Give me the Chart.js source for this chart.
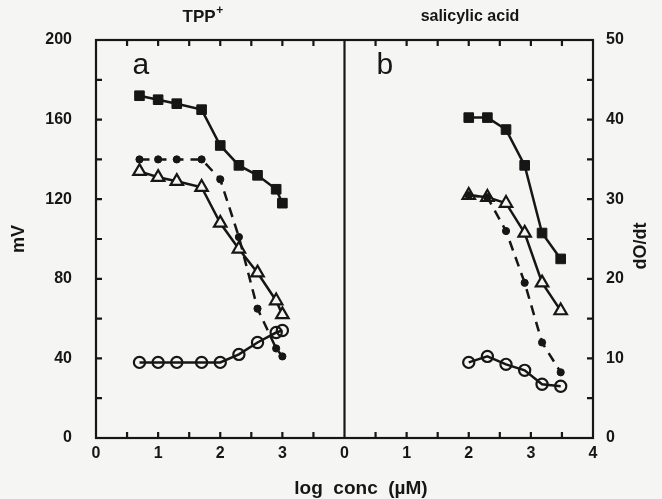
<!DOCTYPE html>
<html>
<head>
<meta charset="utf-8">
<script src="https://cdn.jsdelivr.net/npm/chart.js@4/dist/chart.umd.min.js"></script>
<style>
  html, body { margin: 0; padding: 0; background: #f5f5f3; }
  #wrap { width: 662px; height: 499px; }
</style>
</head>
<body>
<div id="wrap"><canvas id="c" width="662" height="499"></canvas></div>
<script>
// Panel a: TPP+ (log concentration, µM)
const tppConc      = [0.7, 1.0, 1.3, 1.7, 2.0, 2.3, 2.6, 2.9, 3.0];
const tppSquares   = [172, 170, 168, 165, 147, 137, 132, 125, 118];
const tppDots      = [140, 140, 140, 140, 130, 101, 65, 45, 41];
const tppTriangles = [134, 131, 129, 126, 108, 95, 83, 69, 62];
const tppCircles   = [38, 38, 38, 38, 38, 42, 48, 53, 54];

// Panel b: salicylic acid (log concentration, µM)
const salConc      = [2.0, 2.3, 2.6, 2.9, 3.18, 3.48];
const salSquares   = [161, 161, 155, 137, 103, 90];
const salDots      = [122, 121, 104, 78, 48, 33];
const salTriangles = [122, 121, 118, 103, 78, 64];
const salCircles   = [38, 41, 37, 34, 27, 26];

// Axis ranges and tick labels
const panelWidth = 4;                       // each panel spans log conc 0..4
const xTickLabels = ['0', '1', '2', '3', '0', '1', '2', '3', '4'];
const mvMax = 200, rateMax = 50;

const INK = '#161616';
const BG = '#f5f5f3';
const FONT = '"Liberation Sans", Arial, sans-serif';

function pts(xs, ys, offset) {
  return xs.map((x, i) => ({ x: x + offset, y: ys[i] }));
}

function series(data, kind) {
  const base = {
    data, borderColor: INK, borderWidth: 2.5, showLine: true,
    pointBorderColor: INK, pointBorderWidth: 2.2, pointHoverRadius: 0,
    tension: 0, yAxisID: 'y'
  };
  if (kind === 'square') return Object.assign(base, { pointStyle: 'rect', pointRadius: 6.8, pointBackgroundColor: INK, pointBorderWidth: 1 });
  if (kind === 'dot') return Object.assign(base, { pointStyle: 'circle', pointRadius: 3.6, pointBackgroundColor: INK, borderDash: [10, 7], pointBorderWidth: 1 });
  if (kind === 'triangle') return Object.assign(base, { pointStyle: 'triangle', pointRadius: 7.2, pointBackgroundColor: BG });
  return Object.assign(base, { pointStyle: 'circle', pointRadius: 5.6, pointBackgroundColor: 'rgba(0,0,0,0)' });
}

const datasets = [
  series(pts(tppConc, tppSquares, 0), 'square'),
  series(pts(tppConc, tppDots, 0), 'dot'),
  series(pts(tppConc, tppTriangles, 0), 'triangle'),
  series(pts(tppConc, tppCircles, 0), 'circle'),
  series(pts(salConc, salSquares, panelWidth), 'square'),
  series(pts(salConc, salDots, panelWidth), 'dot'),
  series(pts(salConc, salTriangles, panelWidth), 'triangle'),
  series(pts(salConc, salCircles, panelWidth), 'circle')
];

// Frame, panel divider, inward ticks, panel labels and axis titles
const framePlugin = {
  id: 'frame',
  afterDatasetsDraw(chart) {
    const { ctx, chartArea: a, scales } = chart;
    const x = scales.x, y = scales.y, y2 = scales.y2;
    ctx.save();
    ctx.strokeStyle = INK;
    ctx.lineWidth = 2.2;
    ctx.strokeRect(a.left, a.top, a.right - a.left, a.bottom - a.top);
    const mid = x.getPixelForValue(panelWidth);
    ctx.beginPath(); ctx.moveTo(mid, a.top); ctx.lineTo(mid, a.bottom); ctx.stroke();

    const len = 6;
    ctx.beginPath();
    for (let v = 0.5; v < 2 * panelWidth; v += 0.5) {
      if (v === panelWidth) continue;
      const px = x.getPixelForValue(v);
      ctx.moveTo(px, a.bottom); ctx.lineTo(px, a.bottom - len);
      ctx.moveTo(px, a.top); ctx.lineTo(px, a.top + len);
    }
    for (let v = 20; v < mvMax; v += 20) {
      const py = y.getPixelForValue(v);
      ctx.moveTo(a.left, py); ctx.lineTo(a.left + len, py);
    }
    for (let v = 5; v < rateMax; v += 5) {
      const py = y2.getPixelForValue(v);
      ctx.moveTo(a.right, py); ctx.lineTo(a.right - len, py);
    }
    ctx.stroke();

    ctx.fillStyle = INK;
    ctx.textAlign = 'center';
    ctx.textBaseline = 'middle';
    ctx.font = '30px ' + FONT;
    ctx.fillText('a', x.getPixelForValue(0.72), y.getPixelForValue(187));
    ctx.fillText('b', x.getPixelForValue(panelWidth + 0.65), y.getPixelForValue(187));

    // panel headings
    ctx.font = 'bold 17px ' + FONT;
    const tx = x.getPixelForValue(1.66), ty = 17;
    ctx.fillText('TPP', tx, ty);
    const w = ctx.measureText('TPP').width;
    ctx.font = 'bold 12px ' + FONT;
    ctx.fillText('+', tx + w / 2 + 4, ty - 6);
    ctx.font = 'bold 16px ' + FONT;
    ctx.fillText('salicylic acid', x.getPixelForValue(panelWidth + 2.02), ty);

    // x-axis title
    ctx.font = 'bold 19px ' + FONT;
    ctx.fillText('log  conc  (\u00b5M)', 361, 489);

    // right-axis title, reading bottom to top
    ctx.translate(641, 246);
    ctx.rotate(-Math.PI / 2);
    ctx.font = 'bold 18px ' + FONT;
    ctx.fillText('dO/dt', 0, 0);
    ctx.restore();
  }
};

new Chart(document.getElementById('c'), {
  type: 'scatter',
  data: { datasets },
  plugins: [framePlugin],
  options: {
    responsive: false,
    animation: false,
    devicePixelRatio: 1,
    layout: { padding: { top: 40, bottom: 0, left: 0, right: 0 } },
    plugins: { legend: { display: false }, tooltip: { enabled: false } },
    scales: {
      x: {
        type: 'linear', min: 0, max: 2 * panelWidth,
        grid: { display: false, drawTicks: false }, border: { display: false },
        ticks: {
          stepSize: 0.5, autoSkip: false, maxRotation: 0, padding: 6,
          color: INK, font: { family: FONT, size: 16, weight: 'bold' },
          callback: v => Number.isInteger(v) ? xTickLabels[v] : ''
        },
        afterFit: s => { s.height = 61; }
      },
      y: {
        type: 'linear', position: 'left', min: 0, max: mvMax,
        grid: { display: false, drawTicks: false }, border: { display: false },
        ticks: {
          stepSize: 20, autoSkip: false, padding: 24, color: INK,
          font: { family: FONT, size: 16, weight: 'bold' },
          callback: v => v % 40 === 0 ? String(v) : ''
        },
        title: { display: true, text: 'mV', color: INK,
                 font: { family: FONT, size: 18, weight: 'bold' }, padding: { top: 8, bottom: 0 } },
        afterFit: s => { s.width = 96; }
      },
      y2: {
        type: 'linear', position: 'right', min: 0, max: rateMax,
        grid: { display: false, drawTicks: false }, border: { display: false },
        ticks: {
          stepSize: 5, autoSkip: false, padding: 13, color: INK,
          font: { family: FONT, size: 16, weight: 'bold' },
          callback: v => v % 10 === 0 ? String(v) : ''
        },
        afterFit: s => { s.width = 69; }
      }
    }
  }
});
</script>
</body>
</html>
